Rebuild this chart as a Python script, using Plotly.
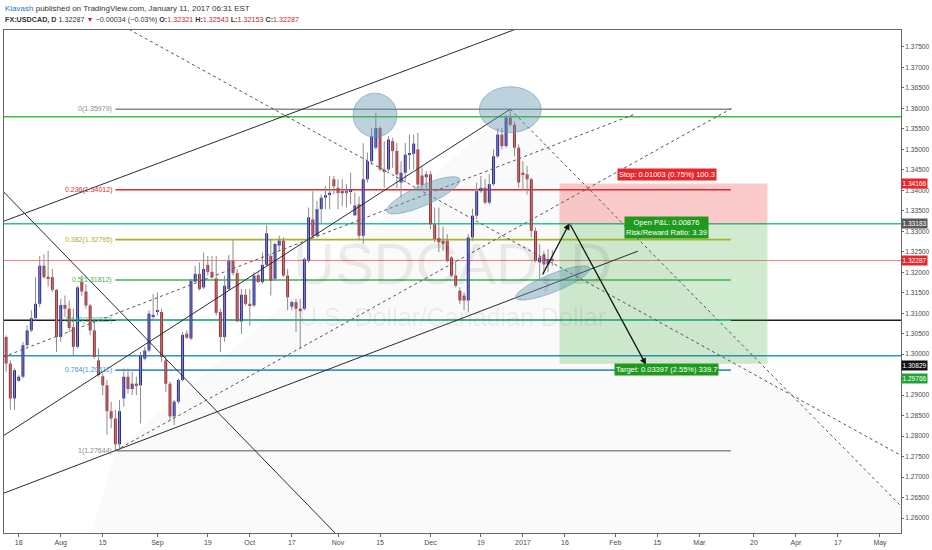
import numpy as np
import pandas as pd
import plotly.graph_objects as go

# FX:USDCAD daily bars, 13 Jul 2016 .. 11 Jan 2017
opens = [1.3042, 1.2977, 1.2892, 1.2935, 1.2945, 1.3022, 1.3058, 1.3088, 1.3123, 1.3216,
         1.3189, 1.3188, 1.3157, 1.3042, 1.3120, 1.3111, 1.3066, 1.3018, 1.3176, 1.3153,
         1.3119, 1.3058, 1.2985, 1.2946, 1.2924, 1.2861, 1.2843, 1.2780, 1.2892, 1.2945,
         1.2915, 1.2928, 1.2924, 1.2989, 1.3009, 1.3093, 1.3103, 1.3103, 1.2985, 1.2928,
         1.2848, 1.2884, 1.2937, 1.3050, 1.3038, 1.3177, 1.3196, 1.3163, 1.3218, 1.3201,
         1.3185, 1.3103, 1.3042, 1.3159, 1.3228, 1.3198, 1.3080, 1.3145, 1.3123, 1.3119,
         1.3193, 1.3176, 1.3218, 1.3240, 1.3184, 1.3265, 1.3277, 1.3192, 1.3116, 1.3127,
         1.3111, 1.3111, 1.3228, 1.3329, 1.3289, 1.3354, 1.3382, 1.3390, 1.3427, 1.3406,
         1.3393, 1.3398, 1.3398, 1.3339, 1.3366, 1.3289, 1.3427, 1.3471, 1.3504, 1.3552,
         1.3451, 1.3451, 1.3520, 1.3496, 1.3419, 1.3443, 1.3487, 1.3489, 1.3500, 1.3436,
         1.3432, 1.3439, 1.3317, 1.3283, 1.3277, 1.3277, 1.3236, 1.3192, 1.3155, 1.3143,
         1.3131, 1.3285, 1.3338, 1.3398, 1.3406, 1.3370, 1.3415, 1.3483, 1.3536, 1.3508,
         1.3577, 1.3560, 1.3504, 1.3443, 1.3439, 1.3427, 1.3301, 1.3224, 1.3244, 1.3219,
         1.32321]
highs = [1.3046, 1.2985, 1.2965, 1.2949, 1.3030, 1.3070, 1.3107, 1.3188, 1.3240, 1.3244,
         1.3252, 1.3208, 1.3159, 1.3135, 1.3143, 1.3131, 1.3111, 1.3167, 1.3192, 1.3171,
         1.3123, 1.3082, 1.3014, 1.2953, 1.2937, 1.2884, 1.2864, 1.2888, 1.2965, 1.2965,
         1.2957, 1.2945, 1.3005, 1.3018, 1.3107, 1.3147, 1.3151, 1.3111, 1.2997, 1.2933,
         1.2888, 1.2941, 1.3054, 1.3058, 1.3184, 1.3216, 1.3224, 1.3248, 1.3240, 1.3240,
         1.3240, 1.3111, 1.3192, 1.3242, 1.3281, 1.3208, 1.3159, 1.3159, 1.3159, 1.3200,
         1.3200, 1.3248, 1.3315, 1.3281, 1.3273, 1.3289, 1.3285, 1.3208, 1.3131, 1.3135,
         1.3135, 1.3236, 1.3358, 1.3398, 1.3374, 1.3390, 1.3410, 1.3435, 1.3435, 1.3427,
         1.3427, 1.3415, 1.3443, 1.3394, 1.3385, 1.3515, 1.3492, 1.3552, 1.3589, 1.3556,
         1.3520, 1.3532, 1.3528, 1.3516, 1.3471, 1.3516, 1.3536, 1.3536, 1.3540, 1.3459,
         1.3447, 1.3447, 1.3358, 1.3358, 1.3312, 1.3293, 1.3240, 1.3228, 1.3163, 1.3151,
         1.3293, 1.3355, 1.3419, 1.3435, 1.3427, 1.3439, 1.3500, 1.3552, 1.3552, 1.3585,
         1.35979, 1.3568, 1.3512, 1.3471, 1.3459, 1.3431, 1.3309, 1.3269, 1.3252, 1.3256,
         1.32543]
lows = [1.2957, 1.2864, 1.2864, 1.2933, 1.2941, 1.3018, 1.3054, 1.3082, 1.3115, 1.3184,
        1.3165, 1.3151, 1.3005, 1.3030, 1.3091, 1.3054, 1.2997, 1.3014, 1.3143, 1.3111,
        1.3046, 1.2989, 1.2945, 1.2900, 1.2803, 1.2819, 1.27644, 1.2769, 1.2872, 1.2904,
        1.2900, 1.2900, 1.2831, 1.2985, 1.3005, 1.3082, 1.3094, 1.2981, 1.2908, 1.2839,
        1.2827, 1.2880, 1.2933, 1.3037, 1.3034, 1.3176, 1.3155, 1.3159, 1.3192, 1.3184,
        1.3094, 1.3005, 1.3030, 1.3155, 1.3192, 1.3078, 1.3050, 1.3119, 1.3070, 1.3115,
        1.3174, 1.3171, 1.3215, 1.3143, 1.3179, 1.3252, 1.3188, 1.3107, 1.3107, 1.3054,
        1.3014, 1.3107, 1.3224, 1.3285, 1.3285, 1.3317, 1.3354, 1.3354, 1.3390, 1.3354,
        1.3361, 1.3358, 1.3366, 1.3337, 1.3281, 1.3269, 1.3419, 1.3463, 1.3500, 1.3447,
        1.3406, 1.3447, 1.3455, 1.3406, 1.3382, 1.3419, 1.3451, 1.3451, 1.3402, 1.3402,
        1.3398, 1.3305, 1.3273, 1.3249, 1.3252, 1.3224, 1.3188, 1.3163, 1.3123, 1.3107,
        1.3103, 1.3277, 1.3330, 1.3394, 1.3366, 1.3366, 1.3411, 1.3479, 1.3500, 1.3504,
        1.3556, 1.3483, 1.3406, 1.3402, 1.3390, 1.3285, 1.3224, 1.3184, 1.3196, 1.3200,
        1.32153]
closes = [1.2977, 1.2892, 1.2961, 1.2945, 1.3022, 1.3058, 1.3088, 1.3123, 1.3216, 1.3188,
          1.3185, 1.3157, 1.3042, 1.3120, 1.3111, 1.3064, 1.3018, 1.3163, 1.3153, 1.3119,
          1.3058, 1.2993, 1.2949, 1.2924, 1.2861, 1.2843, 1.2780, 1.2861, 1.2945, 1.2915,
          1.2928, 1.2924, 1.2997, 1.3009, 1.3099, 1.3096, 1.3107, 1.2993, 1.2928, 1.2848,
          1.2884, 1.2937, 1.3047, 1.3040, 1.3179, 1.3196, 1.3159, 1.3208, 1.3201, 1.3188,
          1.3101, 1.3042, 1.3167, 1.3228, 1.3198, 1.3080, 1.3145, 1.3123, 1.3119, 1.3192,
          1.3176, 1.3218, 1.3295, 1.3179, 1.3269, 1.3277, 1.3192, 1.3139, 1.3127, 1.3111,
          1.3105, 1.3232, 1.3334, 1.3289, 1.3354, 1.3382, 1.3388, 1.3394, 1.3410, 1.3393,
          1.3398, 1.3394, 1.3402, 1.3363, 1.3289, 1.3427, 1.3471, 1.3532, 1.3552, 1.3451,
          1.3447, 1.3524, 1.3496, 1.3439, 1.3443, 1.3487, 1.3489, 1.3514, 1.3414, 1.3413,
          1.3439, 1.3317, 1.3281, 1.3273, 1.3269, 1.3228, 1.3192, 1.3167, 1.3131, 1.3131,
          1.3285, 1.3338, 1.3398, 1.3406, 1.3370, 1.3415, 1.3483, 1.3536, 1.3508, 1.3577,
          1.3560, 1.3504, 1.3419, 1.3439, 1.3427, 1.3301, 1.3228, 1.3236, 1.3219, 1.32321,
          1.32287]

# weekday calendar, bar 0 = 13 Jul 2016
days = pd.bdate_range("2016-07-13", "2017-05-31")
tick_dates = ["2016-07-18", "2016-08-01", "2016-08-15", "2016-09-01", "2016-09-19",
              "2016-10-03", "2016-10-17", "2016-11-01", "2016-11-15", "2016-12-01",
              "2016-12-19", "2017-01-02", "2017-01-16", "2017-02-01", "2017-02-15",
              "2017-03-01", "2017-03-20", "2017-04-03", "2017-04-17", "2017-05-01"]
tick_text = ["18", "Aug", "15", "Sep", "19", "Oct", "17", "Nov", "15", "Dec",
             "19", "2017", "16", "Feb", "15", "Mar", "20", "Apr", "17", "May"]
tick_pos = [days.get_loc(pd.Timestamp(d)) for d in tick_dates]
price_ticks = [round(1.26 + 0.005 * k, 3) for k in range(24)]
hidden_ticks = [1.295]  # sits under the price tags

# fibonacci retracement
fib_ratio = ["0", "0.236", "0.382", "0.5", "0.618", "0.764", "1"]
fib_price = [1.35979, 1.34012, 1.32795, 1.31812, 1.30829, 1.29611, 1.27644]
fib_color = ["#8a8a8a", "#e0292e", "#a6b12a", "#3fb34a", "#2dbf96", "#3a92d2", "#8a8a8a"]
fib_span = [26, 172.5]

# horizontal lines across the chart
hline_price = [1.35798, 1.33183, 1.30829, 1.2996]
hline_color = ["#3cbf3c", "#2dc29c", "#1e1e1e", "#2b8fd1"]
last_price = 1.32287

# long/short position tool
entry, stop, target = 1.33183, 1.34166, 1.29766
pos_span = [131.7, 181.2]
pos_label_x = 157.2

# trend lines (bar, price)
solid_lines = [[(-2, 1.3319), (122, 1.3796)],
               [(-2, 1.2792), (120, 1.35979)],
               [(-2, 1.2655), (150.4, 1.32516)],
               [(-2, 1.3411), (81, 1.2535)]]
dashed_lines = [[(28, 1.3800), (214, 1.2747)],
                [(120, 1.35979), (214, 1.26188)],
                [(-2, 1.2988), (149.3, 1.35847)],
                [(26, 1.27644), (173, 1.36017)]]
shade = [(26, 1.27644), (120, 1.35979), (235.7, 1.2391), (9.1, 1.2162)]
arrow_pts = [(127.5, 1.31908), (134.1, 1.33197), (152.3, 1.29744)]

# ellipses: centre bar, centre price, half length px, half width px, tilt deg
ellipses = [(87.8, 1.35835, 22, 22, 0),
            (120.0, 1.35968, 31, 23, 0),
            (99.3, 1.33877, 40, 10, 24),
            (130.1, 1.31738, 40, 9, 22)]

FONT = "Liberation Sans, Arial, sans-serif"
xr = [-0.507, 213.0]
yr = [1.25635, 1.37913]
W, H = 932, 550
ML, MR, MT, MB = 3, 28, 30, 15
px_bar = (W - ML - MR) / (xr[1] - xr[0])
px_price = (H - MT - MB) / (yr[1] - yr[0])

x = np.arange(len(opens))
o, h, l, c = map(np.array, (opens, highs, lows, closes))
up = c >= o
body_base = np.minimum(o, c)
body_h = np.maximum(np.abs(c - o), 0.00008)
body_col = np.where(up, "#2525b3", "#b4262b")

fig = go.Figure()

# wicks
wx, wy = [], []
for i in range(len(x)):
    wx += [x[i], x[i], None]
    wy += [l[i], h[i], None]
fig.add_trace(go.Scatter(x=wx, y=wy, mode="lines", line=dict(color="#8c8c8c", width=1),
                         hoverinfo="skip"))
fig.add_trace(go.Bar(x=x, y=body_h, base=body_base, width=0.7,
                     marker=dict(color=body_col, line=dict(width=0)), hoverinfo="skip"))


def seg_trace(lines, dash):
    sx, sy = [], []
    for (a, b) in lines:
        sx += [a[0], b[0], None]
        sy += [a[1], b[1], None]
    return go.Scatter(x=sx, y=sy, mode="lines", hoverinfo="skip",
                      line=dict(color="#2b2b2b" if dash == "solid" else "#555555",
                                width=1, dash=dash))


fig.add_trace(seg_trace(solid_lines, "solid"))
fig.add_trace(seg_trace(dashed_lines, "3px,3px"))

shapes = []
shade_path = "M " + " L ".join(f"{a},{b}" for a, b in shade) + " Z"
shapes.append(dict(type="path", path=shade_path, xref="x", yref="y", layer="below",
                   fillcolor="rgba(0,0,0,0.02)", line=dict(width=0)))
shapes.append(dict(type="rect", xref="x", yref="y", x0=pos_span[0], x1=pos_span[1],
                   y0=entry, y1=stop, layer="below", fillcolor="rgba(240,60,60,0.27)",
                   line=dict(width=0)))
shapes.append(dict(type="rect", xref="x", yref="y", x0=pos_span[0], x1=pos_span[1],
                   y0=target, y1=entry, layer="below", fillcolor="rgba(40,165,40,0.22)",
                   line=dict(width=0)))
for p, col in zip(hline_price, hline_color):
    shapes.append(dict(type="line", xref="paper", yref="y", x0=0, x1=1, y0=p, y1=p,
                       layer="below", line=dict(color=col, width=1.5)))
shapes.append(dict(type="line", xref="paper", yref="y", x0=0, x1=1, y0=last_price,
                   y1=last_price, layer="below", line=dict(color="rgba(235,90,90,0.75)", width=1)))
for p, col in zip(fib_price, fib_color):
    shapes.append(dict(type="line", xref="x", yref="y", x0=fib_span[0], x1=fib_span[1],
                       y0=p, y1=p, layer="below", line=dict(color=col, width=1.6)))

t = np.linspace(0, 2 * np.pi, 60)
for cx, cy, a, b, ang in ellipses:
    r = np.radians(ang)
    dx = a * np.cos(t) * np.cos(r) - b * np.sin(t) * np.sin(r)
    dy = a * np.cos(t) * np.sin(r) + b * np.sin(t) * np.cos(r)
    ex = cx + dx / px_bar
    ey = cy + dy / px_price
    path = "M " + " L ".join(f"{u:.3f},{v:.5f}" for u, v in zip(ex, ey)) + " Z"
    shapes.append(dict(type="path", path=path, xref="x", yref="y", layer="above",
                       fillcolor="rgba(95,148,172,0.42)",
                       line=dict(color="rgba(95,148,172,0.55)", width=1)))

ann = []
# header
ph = H - MT - MB
ann.append(dict(xref="paper", yref="paper", x=-0.001, y=(H - MB - 8) / ph,
                xanchor="left", yanchor="middle", showarrow=False,
                font=dict(size=8, color="#333333", family=FONT),
                text="<span style='color:#2a73c9'>Kiavash</span> published on "
                     "TradingView.com, January 11, 2017 06:31 EST"))
red = "#c62828"
ann.append(dict(xref="paper", yref="paper", x=-0.001, y=(H - MB - 19) / ph,
                xanchor="left", yanchor="middle", showarrow=False,
                font=dict(size=7.2, color="#333333", family=FONT),
                text=f"<b>FX:USDCAD, D</b> 1.32287 <span style='color:{red}'>▼</span> "
                     f"−0.00034 (−0.03%) <b>O:</b><span style='color:{red}'>1.32321</span> "
                     f"<b>H:</b><span style='color:{red}'>1.32543</span> "
                     f"<b>L:</b><span style='color:{red}'>1.32153</span> "
                     f"<b>C:</b><span style='color:{red}'>1.32287</span>"))
# watermark
ann.append(dict(xref="paper", yref="paper", x=0.5, y=0.535, showarrow=False,
                text="USDCAD, D", font=dict(size=58, color="rgba(0,0,0,0.07)", family=FONT)))
ann.append(dict(xref="paper", yref="paper", x=0.5, y=0.43, showarrow=False,
                text="U.S. Dollar/Canadian Dollar",
                font=dict(size=25, color="rgba(0,0,0,0.07)", family=FONT)))
# fib labels
for r_, p, col in zip(fib_ratio, fib_price, fib_color):
    ann.append(dict(x=fib_span[0] - 0.35, y=p, xref="x", yref="y", xanchor="right",
                    yanchor="middle", showarrow=False, text=f"{r_}({p:.5f})",
                    font=dict(size=7, color=col, family=FONT)))
# arrows
for (a, b) in [(arrow_pts[0], arrow_pts[1]), (arrow_pts[1], arrow_pts[2])]:
    ann.append(dict(x=b[0], y=b[1], ax=a[0], ay=a[1], xref="x", yref="y",
                    axref="x", ayref="y", text="", showarrow=True, arrowhead=2,
                    arrowsize=1, arrowwidth=1.3, arrowcolor="#141414"))
# position labels
ann.append(dict(x=pos_label_x, y=1.34388, xref="x", yref="y", showarrow=False,
                text="Stop: 0.01003 (0.75%) 100.3", bgcolor="#e8262b", borderpad=1,
                font=dict(size=7.5, color="white", family=FONT)))
ann.append(dict(x=pos_label_x, y=1.33100, xref="x", yref="y", showarrow=False,
                text="Open P&amp;L: 0.00876<br>Risk/Reward Ratio: 3.39", bgcolor="#1f9a1f",
                borderpad=1, font=dict(size=7.5, color="white", family=FONT)))
ann.append(dict(x=pos_label_x, y=1.29623, xref="x", yref="y", showarrow=False,
                text="Target: 0.03397 (2.55%) 339.7", bgcolor="#1f9a1f", borderpad=1,
                font=dict(size=7.5, color="white", family=FONT)))
# price axis tags
tag_text = ["1.34166", "1.33183", "1.32287", "1.30829", "1.29766"]
tag_y = [1.34166, 1.33183, 1.32287, 1.29735, 1.29415]
tag_bg = ["#e8262b", "#5a5a5a", "#e8262b", "#111111", "#21a336"]
for s, p, bg in zip(tag_text, tag_y, tag_bg):
    ann.append(dict(xref="paper", yref="y", x=1.0, y=p, xanchor="left", yanchor="middle",
                    showarrow=False, text=s, bgcolor=bg, borderpad=0, width=25, height=9,
                    font=dict(size=6.6, color="white", family=FONT)))

fig.update_layout(
    width=W, height=H, margin=dict(l=ML, r=MR, t=MT, b=MB),
    paper_bgcolor="white", plot_bgcolor="white", showlegend=False,
    font=dict(family=FONT, size=7, color="#4b4b4b"),
    shapes=shapes, annotations=ann,
    xaxis=dict(range=xr, tickvals=tick_pos, ticktext=tick_text, ticks="outside",
               ticklen=3, tickcolor="#666", showline=True, linecolor="#666",
               mirror=True, showgrid=False, zeroline=False,
               tickfont=dict(size=7, color="#4b4b4b")),
    yaxis=dict(range=yr, side="right", tickvals=price_ticks,
               ticktext=["" if v in hidden_ticks else f"{v:.5f}" for v in price_ticks],
               ticks="outside", ticklen=2,
               tickcolor="#666", showline=True, linecolor="#666", mirror=True,
               showgrid=False, zeroline=False, tickfont=dict(size=6.6, color="#4b4b4b")),
)

fig.write_html("out.html", config={"displayModeBar": False},
               post_script="document.body.style.margin='0';document.body.style.overflow='hidden';")
